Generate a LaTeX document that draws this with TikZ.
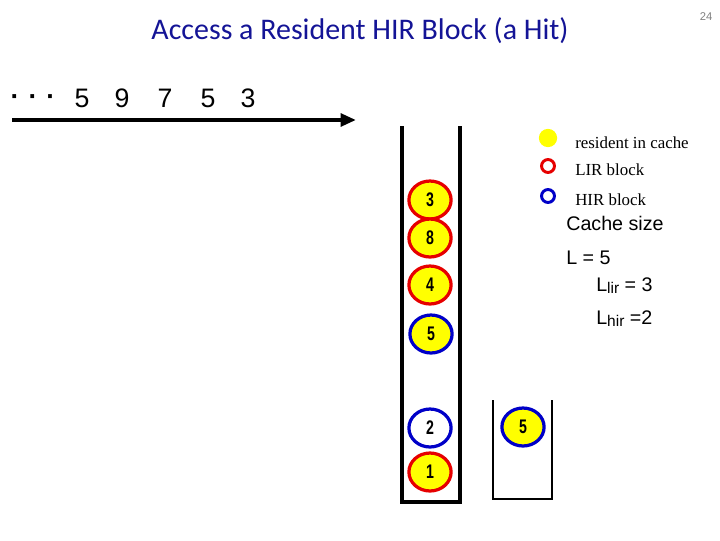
\documentclass[tikz,border=0pt]{standalone}
\usepackage{fontspec}
\setmainfont{Liberation Serif}
\setsansfont{Liberation Sans}
\newfontfamily\titlefont{Carlito}
\newfontfamily\circfont[FakeStretch=0.72]{Liberation Sans}
\usepackage{xcolor}
\usepackage{tikz}
\usetikzlibrary{arrows.meta,positioning,shapes.geometric}
\definecolor{slideblue}{RGB}{20,20,150}
\definecolor{lirred}{RGB}{230,0,0}
\definecolor{hirblue}{RGB}{0,0,200}
\definecolor{resyellow}{RGB}{255,255,0}

\tikzset{
  blk/.style={ellipse, draw, line width=2.3pt, minimum width=30pt, minimum height=27pt,
    inner sep=0pt, font=\circfont\bfseries\fontsize{14}{14}\selectfont},
  lir/.style={blk, draw=lirred, fill=resyellow},
  hir/.style={blk, draw=hirblue, fill=resyellow},
  hirout/.style={blk, draw=hirblue, fill=white},
  stackwall/.style={line width=2.8pt},
  seqnum/.style={font=\sffamily\fontsize{19}{19}\selectfont, anchor=base},
  legtxt/.style={anchor=base west, font=\fontsize{12}{12}\selectfont, inner sep=0pt},
  sizetxt/.style={anchor=base west, font=\sffamily\fontsize{14}{14}\selectfont, inner sep=0pt}
}

\begin{document}
\begin{tikzpicture}[x=0.025cm, y=-0.025cm]
  \useasboundingbox (0,0) rectangle (720,540);
  % ---- title ----
  \node[font=\titlefont\fontsize{21.3}{21.3}\selectfont, text=slideblue] (title) at (360,31) {Access a Resident HIR Block (a Hit)};
  \node[font=\sffamily\fontsize{8}{8}\selectfont, text=gray] (pnum) at (706,17) {24};
  % ---- reference sequence ----
  \node[seqnum] (dots) at (33,105) {\textbf{\textperiodcentered}\,\,\textbf{\textperiodcentered}\,\,\textbf{\textperiodcentered}};
  \foreach \d/\x [count=\i] in {5/82,9/122,7/165,5/208,3/248}
    \node[seqnum] (s\i) at (\x,107) {\d};
  \coordinate (tail) at (12,120);
  \coordinate (head) at (356,120);
  \draw[line width=2.8pt, -{Triangle[length=11pt,width=9pt]}] (tail) -- (head);
  % ---- LIRS stack S ----
  \draw[stackwall] (402,126) -- (402,502) -- (460,502) -- (460,126);
  \node[lir] (b3) at (430,200) {3};
  \node[lir] (b8) at (430,238) {8};
  \node[lir] (b4) at (430,285) {4};
  \node[hir] (b5) at (431,334) {5};
  \node[hirout] (b2) at (430,428) {2};
  \node[lir] (b1) at (430,472) {1};
  % ---- stack Q ----
  \draw[line width=1.6pt] (493,400) -- (493,499) -- (552,499) -- (552,400);
  \node[hir] (q5) at (523,427) {5};
  % ---- legend ----
  \fill[resyellow] (548,138) circle (6.5pt);
  \draw[lirred, line width=2.1pt] (548,166) circle (4.6pt);
  \draw[hirblue, line width=2.1pt] (548,196) circle (4.6pt);
  \node[legtxt] (lres) at (575,148) {resident in cache};
  \node[legtxt] (llir) at (575,175) {LIR block};
  \node[legtxt] (lhir) at (575,205) {HIR block};
  \node[sizetxt] (csize) at (566,230) {Cache size};
  \node[sizetxt] (ltot) at (566,264) {L = 5};
  \node[sizetxt] (llirn) at (596,291) {L{\fontsize{11}{11}\selectfont\raisebox{-2pt}{lir}} = 3};
  \node[sizetxt] (lhirn) at (596,324) {L{\fontsize{11}{11}\selectfont\raisebox{-2pt}{hir}} =2};
\end{tikzpicture}
\end{document}
